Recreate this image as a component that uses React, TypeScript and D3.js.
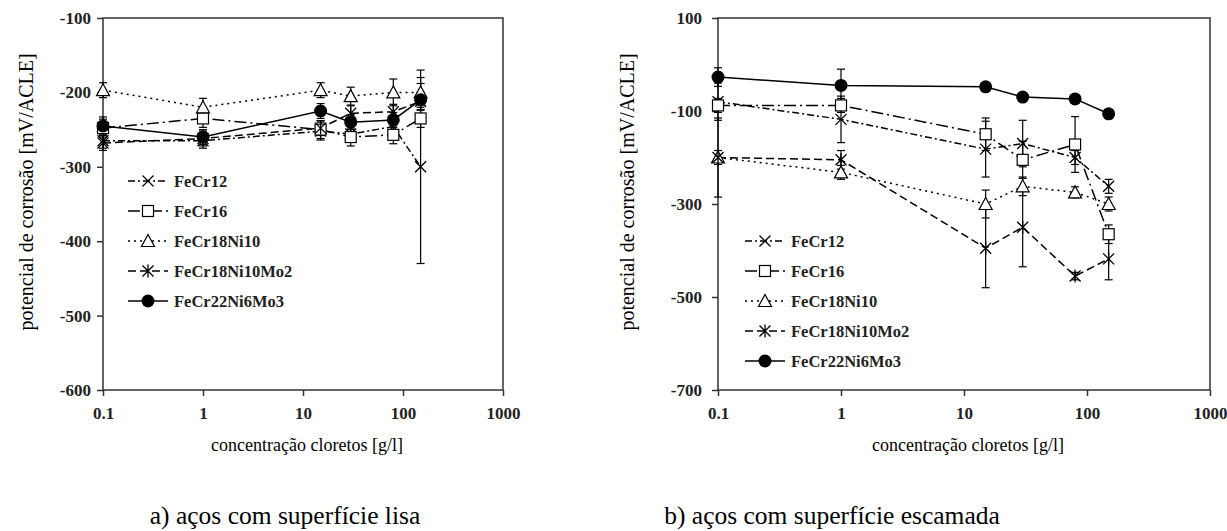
import React, { useRef, useEffect } from "react";
import * as d3 from "d3";

const WIDTH = 1227;
const HEIGHT = 531;

// concentração cloretos [g/l]
const concentrations = [0.1, 1, 15, 30, 80, 150];
const xTicks = [0.1, 1, 10, 100, 1000];
const seriesNames = ["FeCr12", "FeCr16", "FeCr18Ni10", "FeCr18Ni10Mo2", "FeCr22Ni6Mo3"];

// a) superfície lisa
const lisaYTicks = [-100, -200, -300, -400, -500, -600];
const lisaFeCr12 = [-265, -265, -252, -256, -246, -300];
const lisaFeCr16 = [-248, -235, -250, -260, -257, -235];
const lisaFeCr18Ni10 = [-197, -220, -197, -205, -200, -200];
const lisaFeCr18Ni10Mo2 = [-268, -262, -248, -228, -226, -212];
const lisaFeCr22Ni6Mo3 = [-245, -260, -225, -240, -237, -210];
const lisaErrFeCr12 = [10, 10, 12, 10, 10, 130];
const lisaErrFeCr16 = [12, 12, 12, 12, 12, 12];
const lisaErrFeCr18Ni10 = [10, 12, 10, 12, 18, 20];
const lisaErrFeCr18Ni10Mo2 = [10, 10, 10, 10, 10, 12];
const lisaErrFeCr22Ni6Mo3 = [12, 10, 10, 10, 10, 22];

// b) superfície escamada
const escYTicks = [100, -100, -300, -500, -700];
const escFeCr12 = [-80, -118, -182, -170, -200, -262];
const escFeCr16 = [-88, -88, -150, -205, -172, -365];
const escFeCr18Ni10 = [-200, -232, -300, -262, -275, -300];
const escFeCr18Ni10Mo2 = [-200, -205, -395, -350, -455, -418];
const escFeCr22Ni6Mo3 = [-27, -45, -48, -70, -74, -106];
const escErrFeCr12 = [40, 50, 60, 50, 15, 15];
const escErrFeCr16 = [15, 15, 35, 40, 60, 20];
const escErrFeCr18Ni10 = [15, 15, 30, 20, 12, 15];
const escErrFeCr18Ni10Mo2 = [85, 20, 85, 85, 8, 45];
const escErrFeCr22Ni6Mo3 = [20, 35, 8, 8, 8, 8];

const markers = ["x", "square", "triangle", "asterisk", "circle"];
const dashes = ["7,3,2,3", "12,4,2,4", "2,4", "8,4", "none"];

const SERIF = "'Liberation Serif', 'Times New Roman', serif";

type Panel = {
  left: number;
  right: number;
  top: number;
  bottom: number;
  yDomain: [number, number];
  yTicks: number[];
  values: number[][];
  errors: number[][];
  legendX: number;
  legendY: number;
  titleX: number;
  tickPad: number;
  caption: string;
  captionX: number;
};

const panels: Panel[] = [
  {
    left: 103, right: 503, top: 18, bottom: 390,
    yDomain: [-600, -100], yTicks: lisaYTicks,
    values: [lisaFeCr12, lisaFeCr16, lisaFeCr18Ni10, lisaFeCr18Ni10Mo2, lisaFeCr22Ni6Mo3],
    errors: [lisaErrFeCr12, lisaErrFeCr16, lisaErrFeCr18Ni10, lisaErrFeCr18Ni10Mo2, lisaErrFeCr22Ni6Mo3],
    legendX: 128, legendY: 181, titleX: 26, tickPad: 6,
    caption: "a) aços com superfície lisa", captionX: 285,
  },
  {
    left: 718, right: 1210, top: 18, bottom: 390,
    yDomain: [-700, 100], yTicks: escYTicks,
    values: [escFeCr12, escFeCr16, escFeCr18Ni10, escFeCr18Ni10Mo2, escFeCr22Ni6Mo3],
    errors: [escErrFeCr12, escErrFeCr16, escErrFeCr18Ni10, escErrFeCr18Ni10Mo2, escErrFeCr22Ni6Mo3],
    legendX: 745, legendY: 241, titleX: 627, tickPad: 10,
    caption: "b) aços com superfície escamada", captionX: 832,
  },
];

function drawMarker(g: d3.Selection<SVGGElement, unknown, null, undefined>, kind: string, cx: number, cy: number) {
  const m = g.append("g").attr("transform", `translate(${cx},${cy})`);
  if (kind === "circle") {
    m.append("circle").attr("r", 6.5).attr("fill", "#000");
  } else if (kind === "square") {
    m.append("rect").attr("x", -5.5).attr("y", -5.5).attr("width", 11).attr("height", 11)
      .attr("fill", "#fff").attr("stroke", "#000").attr("stroke-width", 1.2);
  } else if (kind === "triangle") {
    m.append("path").attr("d", "M0,-6.5L6.5,5.5L-6.5,5.5Z")
      .attr("fill", "#fff").attr("stroke", "#000").attr("stroke-width", 1.2);
  } else if (kind === "x") {
    m.append("path").attr("d", "M-5.5,-5.5L5.5,5.5M-5.5,5.5L5.5,-5.5")
      .attr("stroke", "#000").attr("stroke-width", 1.3);
  } else {
    m.append("path").attr("d", "M-5.5,-5.5L5.5,5.5M-5.5,5.5L5.5,-5.5M0,-6.5L0,6.5")
      .attr("stroke", "#000").attr("stroke-width", 1.3);
  }
}

export default function App() {
  const svgRef = useRef<SVGSVGElement | null>(null);

  useEffect(() => {
    const svg = d3.select(svgRef.current);
    svg.selectAll("*").remove();

    panels.forEach((p) => {
      const g = svg.append("g");
      const x = d3.scaleLog().domain([0.1, 1000]).range([p.left, p.right]);
      const y = d3.scaleLinear().domain(p.yDomain).range([p.bottom, p.top]);

      // plot frame
      g.append("rect")
        .attr("x", p.left).attr("y", p.top)
        .attr("width", p.right - p.left).attr("height", p.bottom - p.top)
        .attr("fill", "none").attr("stroke", "#333").attr("stroke-width", 1.5);

      // Axes
      const yAxis = g.append("g")
        .attr("transform", `translate(${p.left},0)`)
        .call(d3.axisLeft(y).tickValues(p.yTicks).tickSize(6).tickPadding(p.tickPad).tickFormat((d) => String(d)));
      const xAxis = g.append("g")
        .attr("transform", `translate(0,${p.bottom})`)
        .call(d3.axisBottom(x).tickValues(xTicks).tickSize(6).tickPadding(11).tickFormat((d) => String(d)));
      [yAxis, xAxis].forEach((a) => {
        a.select(".domain").remove();
        a.selectAll("line").attr("stroke", "#333").attr("stroke-width", 1.5);
        a.selectAll("text")
          .attr("font-family", SERIF).attr("font-weight", "bold")
          .attr("font-size", 17).attr("fill", "#222");
      });

      // Error bars
      p.values.forEach((vals, si) => {
        vals.forEach((v, i) => {
          const e = p.errors[si][i];
          const cx = x(concentrations[i]);
          const y1 = y(v - e);
          const y2 = y(v + e);
          g.append("line").attr("x1", cx).attr("x2", cx).attr("y1", y1).attr("y2", y2)
            .attr("stroke", "#000").attr("stroke-width", 1.2);
          [y1, y2].forEach((yy) => {
            g.append("line").attr("x1", cx - 4).attr("x2", cx + 4).attr("y1", yy).attr("y2", yy)
              .attr("stroke", "#000").attr("stroke-width", 1.2);
          });
        });
      });

      // Lines
      const line = d3.line<number>()
        .x((_, i) => x(concentrations[i]))
        .y((d) => y(d));
      p.values.forEach((vals, si) => {
        g.append("path")
          .datum(vals)
          .attr("fill", "none")
          .attr("stroke", "#000")
          .attr("stroke-width", 1.5)
          .attr("stroke-dasharray", dashes[si])
          .attr("d", line);
      });

      // Markers
      p.values.forEach((vals, si) => {
        vals.forEach((v, i) => drawMarker(g, markers[si], x(concentrations[i]), y(v)));
      });

      // Legend
      seriesNames.forEach((name, si) => {
        const ly = p.legendY + si * 30;
        g.append("line")
          .attr("x1", p.legendX).attr("x2", p.legendX + 40)
          .attr("y1", ly).attr("y2", ly)
          .attr("stroke", "#000").attr("stroke-width", 1.5)
          .attr("stroke-dasharray", dashes[si]);
        drawMarker(g, markers[si], p.legendX + 20, ly);
        g.append("text")
          .attr("x", p.legendX + 46).attr("y", ly)
          .attr("dy", "0.35em")
          .attr("font-family", SERIF).attr("font-weight", "bold")
          .attr("font-size", 16.5).attr("fill", "#222")
          .text(name);
      });

      // Titles
      g.append("text")
        .attr("transform", `translate(${p.titleX},${(p.top + p.bottom) / 2 - 12}) rotate(-90)`)
        .attr("text-anchor", "middle").attr("dy", "0.35em")
        .attr("font-family", SERIF).attr("font-size", 20).attr("fill", "#000")
        .text("potencial de corrosão [mV/ACLE]");
      g.append("text")
        .attr("x", (p.left + p.right) / 2 + 4).attr("y", 445)
        .attr("text-anchor", "middle").attr("dy", "0.35em")
        .attr("font-family", SERIF).attr("font-size", 18).attr("fill", "#000")
        .text("concentração cloretos [g/l]");
      g.append("text")
        .attr("x", p.captionX).attr("y", 515)
        .attr("text-anchor", "middle").attr("dy", "0.35em")
        .attr("font-family", SERIF).attr("font-size", 25.5).attr("fill", "#000")
        .text(p.caption);
    });
  }, []);

  return (
    <svg
      ref={svgRef}
      width={WIDTH}
      height={HEIGHT}
      style={{ position: "absolute", left: 0, top: 0, background: "#fff" }}
    />
  );
}
